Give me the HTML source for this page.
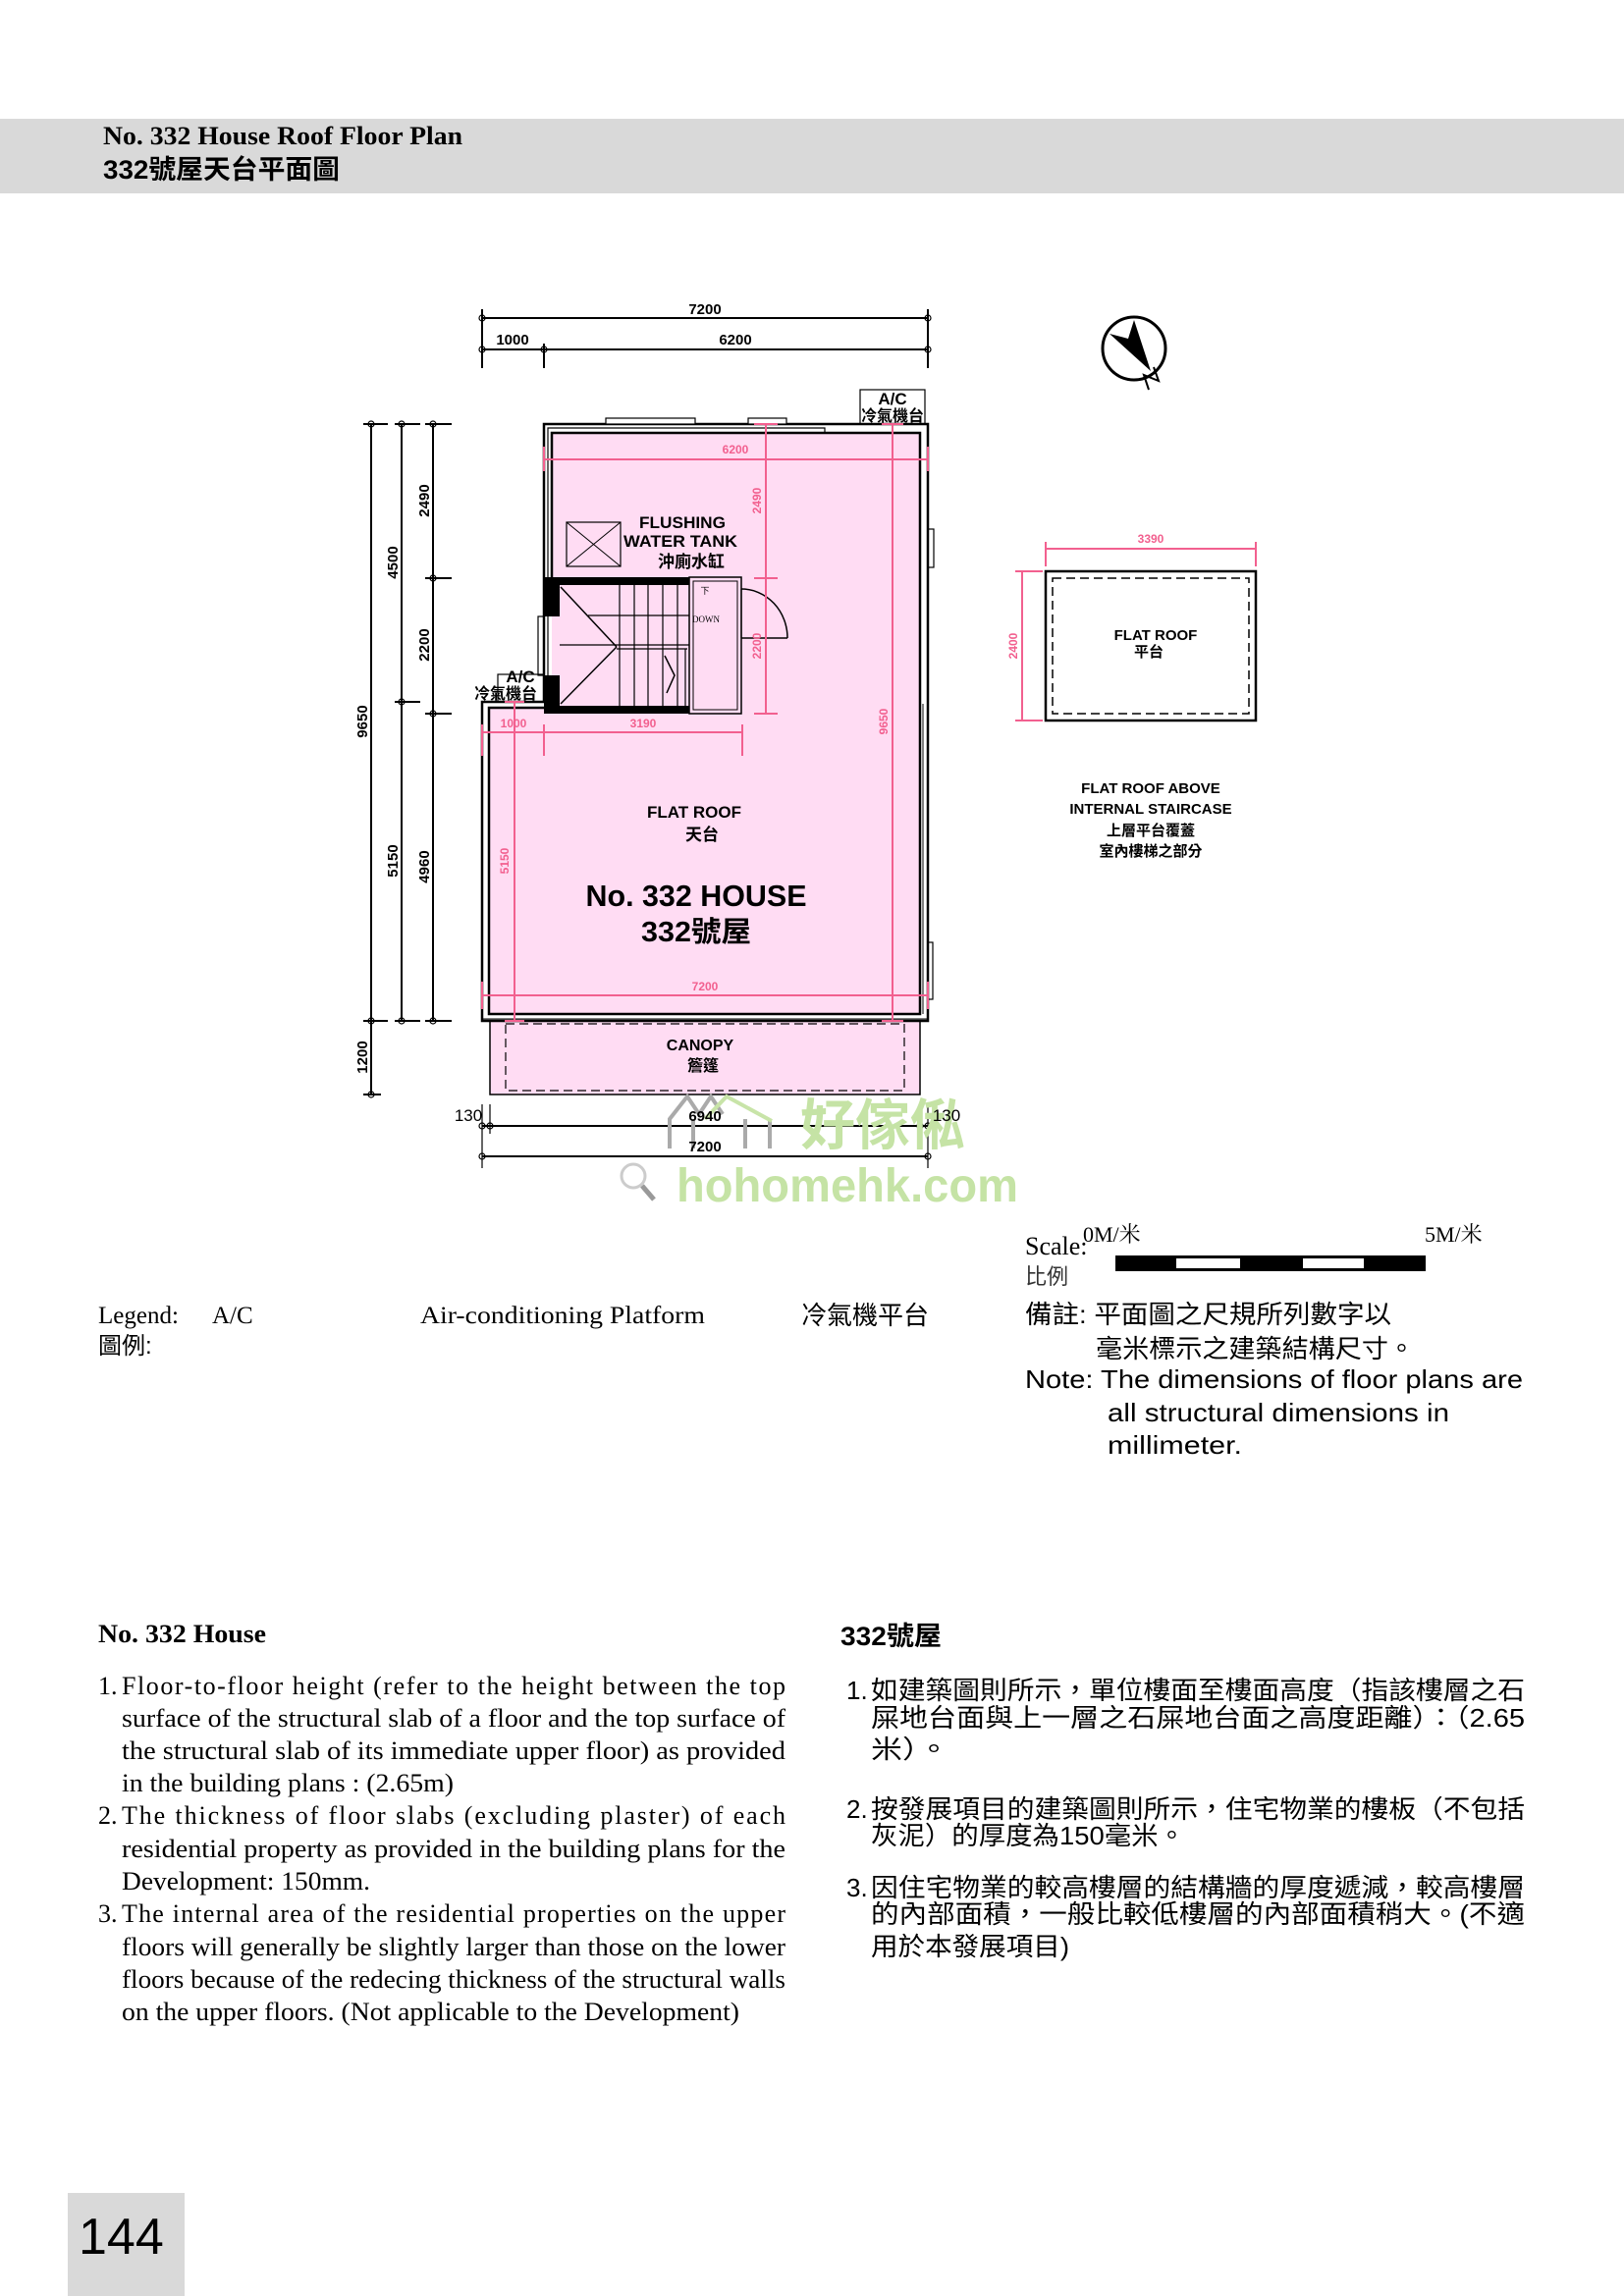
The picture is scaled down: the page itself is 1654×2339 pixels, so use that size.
<!DOCTYPE html>
<html><head><meta charset="utf-8"><style>
html,body{margin:0;padding:0;background:#fff;}
svg{display:block;}
.s{font-family:"Liberation Sans","Noto Sans CJK TC",sans-serif;}
.r{font-family:"Liberation Serif","Noto Serif CJK SC",serif;}
</style></head><body>
<svg width="1654" height="2339" viewBox="0 0 1654 2339" xmlns="http://www.w3.org/2000/svg">
<!-- header -->
<rect x="0" y="121" width="1654" height="76" fill="#d9d9d9"/>
<text x="105" y="147" class="r" font-size="26" font-weight="bold" textLength="366" lengthAdjust="spacingAndGlyphs">No. 332 House Roof Floor Plan</text>
<text x="105" y="182" class="s" font-size="27" font-weight="bold" textLength="241" lengthAdjust="spacingAndGlyphs">332號屋天台平面圖</text>

<!-- pink fills -->
<polygon points="562,441 937,441 937,1033 498,1033 498,721 562,721" fill="#ffdcf3"/>
<rect x="499" y="1040" width="438" height="75" fill="#ffdcf3"/>
<rect x="499" y="1040" width="438" height="75" fill="none" stroke="#000" stroke-width="1.5"/>
<rect x="515" y="1043" width="406" height="68" fill="none" stroke="#000" stroke-width="1.2" stroke-dasharray="9,5"/>

<!-- walls -->
<g fill="none" stroke="#000">
<polyline points="554,715 554,432 945,432 945,1040 491,1040 491,715 554,715" stroke-width="2.5"/>
<polyline points="558,715 558,436 840,436 840,441" stroke-width="1.2"/>
<polyline points="562,588 562,441 937,441 937,1033 498,1033 498,721 554,721" stroke-width="2.5"/>
<line x1="491" y1="1038" x2="945" y2="1038" stroke-width="1"/>
<rect x="617" y="426" width="91" height="6" stroke-width="1.2" fill="#fff"/>
<rect x="762" y="426" width="39" height="6" stroke-width="1.2" fill="#fff"/>
<rect x="945" y="539" width="6" height="39" stroke-width="1.2"/>
<rect x="945" y="960" width="5" height="58" stroke-width="1.2"/>
<line x1="940" y1="717" x2="940" y2="1033" stroke-width="1"/>
<rect x="876" y="397" width="66" height="35" stroke-width="1.2"/>
<rect x="507" y="687" width="47" height="28" stroke-width="1.2"/>
<rect x="548" y="628" width="6" height="60" stroke-width="1.2"/>
<rect x="577" y="532" width="55" height="45" stroke-width="1.2"/>
<line x1="577" y1="532" x2="632" y2="577" stroke-width="1"/>
<line x1="632" y1="532" x2="577" y2="577" stroke-width="1"/>
<rect x="702" y="588" width="53" height="139" stroke-width="1.5"/>
<rect x="706" y="592" width="45" height="131" stroke-width="1"/>
<line x1="702" y1="596" x2="702" y2="719" stroke-width="1"/>
<line x1="631" y1="596" x2="631" y2="719" stroke-width="1.2"/>
<line x1="646" y1="596" x2="646" y2="719" stroke-width="1.2"/>
<line x1="660" y1="596" x2="660" y2="719" stroke-width="1.2"/>
<line x1="675" y1="596" x2="675" y2="719" stroke-width="1.2"/>
<line x1="690" y1="596" x2="690" y2="719" stroke-width="1.2"/>
<line x1="599" y1="627" x2="702" y2="627" stroke-width="1.2"/>
<line x1="570" y1="657" x2="702" y2="657" stroke-width="1.2"/>
<line x1="628" y1="661" x2="700" y2="661" stroke-width="1.2"/>
<line x1="698" y1="661" x2="698" y2="719" stroke-width="1.2"/>
<line x1="571" y1="598" x2="628" y2="659" stroke-width="1.5"/>
<line x1="571" y1="717" x2="628" y2="659" stroke-width="1.5"/>
<polyline points="677,668 687,688 679,706" stroke-width="1.5"/>
<line x1="755" y1="600" x2="755" y2="650" stroke-width="1.2"/>
<path d="M755,600 A47,50 0 0 1 802,650" stroke-width="1.5"/>
<line x1="755" y1="650" x2="802" y2="650" stroke-width="1.5"/>
</g>
<g fill="#000">
<rect x="554" y="588" width="148" height="8"/>
<rect x="554" y="719" width="148" height="8"/>
<rect x="554" y="588" width="16" height="40"/>
<rect x="554" y="688" width="16" height="39"/>
</g>

<!-- pink dims -->
<g stroke="#f2608f" stroke-width="2" fill="none">
<line x1="554" y1="468" x2="945" y2="468"/>
<line x1="554" y1="455" x2="554" y2="480"/><line x1="945" y1="455" x2="945" y2="480"/>
<line x1="780" y1="432" x2="780" y2="727"/>
<line x1="768" y1="432" x2="792" y2="432"/><line x1="768" y1="589" x2="792" y2="589"/><line x1="768" y1="727" x2="792" y2="727"/>
<line x1="909" y1="432" x2="909" y2="1040"/>
<line x1="898" y1="432" x2="920" y2="432"/><line x1="898" y1="1040" x2="920" y2="1040"/>
<line x1="524" y1="715" x2="524" y2="1040"/>
<line x1="514" y1="715" x2="534" y2="715"/><line x1="514" y1="1040" x2="534" y2="1040"/>
<line x1="491" y1="746" x2="756" y2="746"/>
<line x1="491" y1="738" x2="491" y2="770"/><line x1="554" y1="738" x2="554" y2="770"/><line x1="756" y1="738" x2="756" y2="770"/>
<line x1="491" y1="1014" x2="945" y2="1014"/>
<line x1="491" y1="1000" x2="491" y2="1028"/><line x1="945" y1="1000" x2="945" y2="1028"/>
<line x1="1065" y1="559" x2="1279" y2="559"/>
<line x1="1065" y1="552" x2="1065" y2="577"/><line x1="1279" y1="552" x2="1279" y2="577"/>
<line x1="1041" y1="582" x2="1041" y2="734"/>
<line x1="1034" y1="582" x2="1062" y2="582"/><line x1="1034" y1="734" x2="1062" y2="734"/>
</g>
<g class="s" fill="#f2608f" font-size="12" font-weight="bold" text-anchor="middle">
<text x="749" y="462">6200</text>
<text x="523" y="741">1000</text>
<text x="655" y="741">3190</text>
<text x="718" y="1009">7200</text>
<text x="1172" y="553">3390</text>
<text transform="translate(775,510) rotate(-90)">2490</text>
<text transform="translate(775,658) rotate(-90)">2200</text>
<text transform="translate(904,735) rotate(-90)">9650</text>
<text transform="translate(518,877) rotate(-90)">5150</text>
<text transform="translate(1036,658) rotate(-90)">2400</text>
</g>

<!-- black dims -->
<g stroke="#000" stroke-width="2" fill="none">
<line x1="491" y1="324" x2="945" y2="324"/>
<line x1="491" y1="356" x2="945" y2="356"/>
<line x1="491" y1="315" x2="491" y2="375"/>
<line x1="554" y1="350" x2="554" y2="375"/>
<line x1="945" y1="315" x2="945" y2="375"/>
<line x1="378" y1="432" x2="378" y2="1115"/>
<line x1="409" y1="432" x2="409" y2="1040"/>
<line x1="441" y1="432" x2="441" y2="1040"/>
<line x1="370" y1="432" x2="395" y2="432"/><line x1="402" y1="432" x2="428" y2="432"/><line x1="433" y1="432" x2="460" y2="432"/>
<line x1="433" y1="589" x2="460" y2="589"/>
<line x1="402" y1="715" x2="428" y2="715"/>
<line x1="433" y1="727" x2="460" y2="727"/>
<line x1="370" y1="1040" x2="395" y2="1040"/><line x1="402" y1="1040" x2="428" y2="1040"/><line x1="433" y1="1040" x2="460" y2="1040"/>
<line x1="370" y1="1115" x2="388" y2="1115"/>
<line x1="491" y1="1147" x2="945" y2="1147"/>
<line x1="491" y1="1178" x2="945" y2="1178"/>
<line x1="491" y1="1125" x2="491" y2="1190" stroke-width="1.2"/>
<line x1="499" y1="1125" x2="499" y2="1155" stroke-width="1.2"/>
<line x1="937" y1="1125" x2="937" y2="1155" stroke-width="1.2"/>
<line x1="945" y1="1125" x2="945" y2="1190" stroke-width="1.2"/>
</g>
<g fill="none" stroke="#000" stroke-width="1.2">
<circle cx="491" cy="324" r="3"/><circle cx="945" cy="324" r="3"/>
<circle cx="491" cy="356" r="3"/><circle cx="554" cy="356" r="3"/><circle cx="945" cy="356" r="3"/>
<circle cx="378" cy="432" r="3"/><circle cx="409" cy="432" r="3"/><circle cx="441" cy="432" r="3"/>
<circle cx="441" cy="589" r="3"/><circle cx="409" cy="715" r="3"/><circle cx="441" cy="727" r="3"/>
<circle cx="378" cy="1040" r="3"/><circle cx="409" cy="1040" r="3"/><circle cx="441" cy="1040" r="3"/>
<circle cx="378" cy="1115" r="3"/>
<circle cx="491" cy="1147" r="3"/><circle cx="499" cy="1147" r="3"/><circle cx="937" cy="1147" r="3"/><circle cx="945" cy="1147" r="3"/>
<circle cx="491" cy="1178" r="3"/><circle cx="945" cy="1178" r="3"/>
</g>

<!-- watermark -->
<g fill="none" stroke="#aaa" stroke-width="4">
<polyline points="682,1170 682,1140 700,1117 712,1135 724,1117 736,1135"/>
<line x1="706" y1="1140" x2="706" y2="1170"/><line x1="759" y1="1140" x2="759" y2="1170"/><line x1="784" y1="1140" x2="784" y2="1170"/>
</g>
<polyline points="718,1140 740,1117 786,1142" fill="none" stroke="#c8e4a8" stroke-width="4"/>
<text x="815" y="1166" class="s" font-size="56" font-weight="bold" fill="#c5e3a5">好傢俬</text>
<circle cx="645" cy="1198" r="12" fill="none" stroke="#ccc" stroke-width="3"/>
<line x1="654" y1="1208" x2="666" y2="1222" stroke="#999" stroke-width="5"/>
<text x="689" y="1224" class="s" font-size="48" font-weight="bold" fill="#c5e3a5" textLength="348" lengthAdjust="spacingAndGlyphs">hohomehk.com</text>

<g class="s" fill="#000" font-size="15" font-weight="bold" text-anchor="middle">
<text x="718" y="320">7200</text>
<text x="522" y="351">1000</text>
<text x="749" y="351">6200</text>
<text transform="translate(374,735) rotate(-90)">9650</text>
<text transform="translate(405,573) rotate(-90)">4500</text>
<text transform="translate(405,877) rotate(-90)">5150</text>
<text transform="translate(437,510) rotate(-90)">2490</text>
<text transform="translate(437,657) rotate(-90)">2200</text>
<text transform="translate(437,883) rotate(-90)">4960</text>
<text transform="translate(374,1077) rotate(-90)">1200</text>
<text x="718" y="1142">6940</text>
<text x="718" y="1173">7200</text>
<text x="477" y="1142" font-weight="normal" font-size="17">130</text>
<text x="964" y="1142" font-weight="normal" font-size="17">130</text>
</g>

<!-- plan labels -->
<g class="s" fill="#000" text-anchor="middle" font-weight="bold">
<text x="695" y="538" font-size="17" textLength="88" lengthAdjust="spacingAndGlyphs">FLUSHING</text>
<text x="693" y="557" font-size="17" textLength="116" lengthAdjust="spacingAndGlyphs">WATER TANK</text>
<text x="704" y="578" font-size="17">沖廁水缸</text>
<text x="718" y="605" font-size="9" font-weight="normal" font-family="Liberation Serif">下</text>
<text x="719" y="634" font-size="9" font-weight="normal" font-family="Liberation Serif">DOWN</text>
<text x="909" y="412" font-size="17">A/C</text>
<text x="909" y="429" font-size="16">冷氣機台</text>
<text x="530" y="695" font-size="17">A/C</text>
<text x="515" y="712" font-size="16">冷氣機台</text>
<text x="707" y="833" font-size="17">FLAT ROOF</text>
<text x="715" y="856" font-size="17">天台</text>
<text x="709" y="923" font-size="31" textLength="225" lengthAdjust="spacingAndGlyphs">No. 332 HOUSE</text>
<text x="709" y="959" font-size="29" textLength="112" lengthAdjust="spacingAndGlyphs">332號屋</text>
<text x="713" y="1070" font-size="16">CANOPY</text>
<text x="716" y="1091" font-size="16">簷篷</text>
</g>

<!-- right flat roof box -->
<rect x="1065" y="582" width="214" height="152" fill="none" stroke="#000" stroke-width="2.5"/>
<rect x="1072" y="589" width="200" height="138" fill="none" stroke="#000" stroke-width="1.5" stroke-dasharray="9,5"/>
<g class="s" fill="#000" text-anchor="middle" font-weight="bold">
<text x="1177" y="652" font-size="15">FLAT ROOF</text>
<text x="1170" y="669" font-size="15">平台</text>
<text x="1172" y="808" font-size="15">FLAT ROOF ABOVE</text>
<text x="1172" y="829" font-size="15">INTERNAL STAIRCASE</text>
<text x="1172" y="851" font-size="15">上層平台覆蓋</text>
<text x="1172" y="872" font-size="15">室內樓梯之部分</text>
</g>
<circle cx="1155" cy="355" r="32" fill="none" stroke="#000" stroke-width="3"/>
<polygon points="1155,326 1172,378 1130,340 1149,345" fill="#000"/>
<g stroke="#000" stroke-width="2" fill="none"><polyline points="1170,397 1165,382 1180,388 1175,374"/></g>

<!-- scale -->
<text x="1044" y="1278" class="r" font-size="26">Scale:</text>
<text x="1103" y="1265" class="r" font-size="22">0M/米</text>
<text x="1451" y="1265" class="r" font-size="22">5M/米</text>
<text x="1044" y="1308" class="s" font-size="22" fill="#333">比例</text>
<rect x="1136" y="1279" width="316" height="16" fill="#000"/>
<rect x="1198" y="1282" width="65" height="10" fill="#fff"/>
<rect x="1327" y="1282" width="62" height="10" fill="#fff"/>
<g class="s" font-size="26" fill="#000">
<text x="1044" y="1348" textLength="373" lengthAdjust="spacingAndGlyphs">備註: 平面圖之尺規所列數字以</text>
<text x="1116" y="1383" textLength="325" lengthAdjust="spacingAndGlyphs">毫米標示之建築結構尺寸。</text>
<text x="1044" y="1414" textLength="507" lengthAdjust="spacingAndGlyphs">Note: The dimensions of floor plans are</text>
<text x="1128" y="1448" textLength="348" lengthAdjust="spacingAndGlyphs">all structural dimensions in</text>
<text x="1128" y="1481" textLength="137" lengthAdjust="spacingAndGlyphs">millimeter.</text>
</g>

<!-- legend -->
<g class="r" font-size="25" fill="#000">
<text x="100" y="1348">Legend:</text>
<text x="216" y="1348">A/C</text>
<text x="428" y="1348" textLength="290" lengthAdjust="spacingAndGlyphs">Air-conditioning Platform</text>
</g>
<text x="100" y="1379" class="s" font-size="24">圖例:</text>
<text x="816" y="1349" class="s" font-size="26">冷氣機平台</text>

<!-- English notes -->
<g class="r" font-size="26" fill="#000">
<text x="100" y="1673" font-weight="bold" textLength="171" lengthAdjust="spacingAndGlyphs">No. 332 House</text>
<text x="100" y="1726">1.</text>
<text x="124" y="1726" textLength="676" lengthAdjust="spacing">Floor-to-floor height (refer to the height between the top</text>
<text x="124" y="1759" textLength="676" lengthAdjust="spacingAndGlyphs">surface of the structural slab of a floor and the top surface of</text>
<text x="124" y="1792" textLength="676" lengthAdjust="spacingAndGlyphs">the structural slab of its immediate upper floor) as provided</text>
<text x="124" y="1825" textLength="338" lengthAdjust="spacingAndGlyphs">in the building plans : (2.65m)</text>
<text x="100" y="1858">2.</text>
<text x="124" y="1858" textLength="676" lengthAdjust="spacing">The thickness of floor slabs (excluding plaster) of each</text>
<text x="124" y="1892" textLength="676" lengthAdjust="spacingAndGlyphs">residential   property as provided in the building plans for the</text>
<text x="124" y="1925" textLength="253" lengthAdjust="spacingAndGlyphs">Development: 150mm.</text>
<text x="100" y="1958">3.</text>
<text x="124" y="1958" textLength="676" lengthAdjust="spacing">The internal area of the residential properties on the upper</text>
<text x="124" y="1992" textLength="676" lengthAdjust="spacingAndGlyphs">floors will generally be slightly larger than those on the lower</text>
<text x="124" y="2025" textLength="676" lengthAdjust="spacingAndGlyphs">floors because of the redecing thickness of the structural walls</text>
<text x="124" y="2058" textLength="629" lengthAdjust="spacingAndGlyphs">on the upper floors. (Not applicable to the Development)</text>
</g>

<!-- Chinese notes -->
<g class="s" font-size="26" fill="#000">
<text x="856" y="1676" font-size="27" font-weight="bold" textLength="103" lengthAdjust="spacingAndGlyphs">332號屋</text>
<text x="862" y="1731">1.</text>
<text x="887" y="1731" textLength="666" lengthAdjust="spacingAndGlyphs">如建築圖則所示，單位樓面至樓面高度（指該樓層之石</text>
<text x="887" y="1759" textLength="666" lengthAdjust="spacingAndGlyphs">屎地台面與上一層之石屎地台面之高度距離）：（2.65</text>
<text x="887" y="1791" textLength="80" lengthAdjust="spacingAndGlyphs">米）。</text>
<text x="862" y="1852">2.</text>
<text x="887" y="1852" textLength="666" lengthAdjust="spacingAndGlyphs">按發展項目的建築圖則所示，住宅物業的樓板（不包括</text>
<text x="887" y="1879" textLength="320" lengthAdjust="spacingAndGlyphs">灰泥）的厚度為150毫米。</text>
<text x="862" y="1932">3.</text>
<text x="887" y="1932" textLength="666" lengthAdjust="spacingAndGlyphs">因住宅物業的較高樓層的結構牆的厚度遞減，較高樓層</text>
<text x="887" y="1959" textLength="666" lengthAdjust="spacingAndGlyphs">的內部面積，一般比較低樓層的內部面積稍大。(不適</text>
<text x="887" y="1992" textLength="202" lengthAdjust="spacingAndGlyphs">用於本發展項目)</text>
</g>

<!-- page number -->
<rect x="69" y="2234" width="119" height="105" fill="#d9d9d9"/>
<text x="80" y="2296" class="s" font-size="52" fill="#000">144</text>
</svg>
</body></html>
